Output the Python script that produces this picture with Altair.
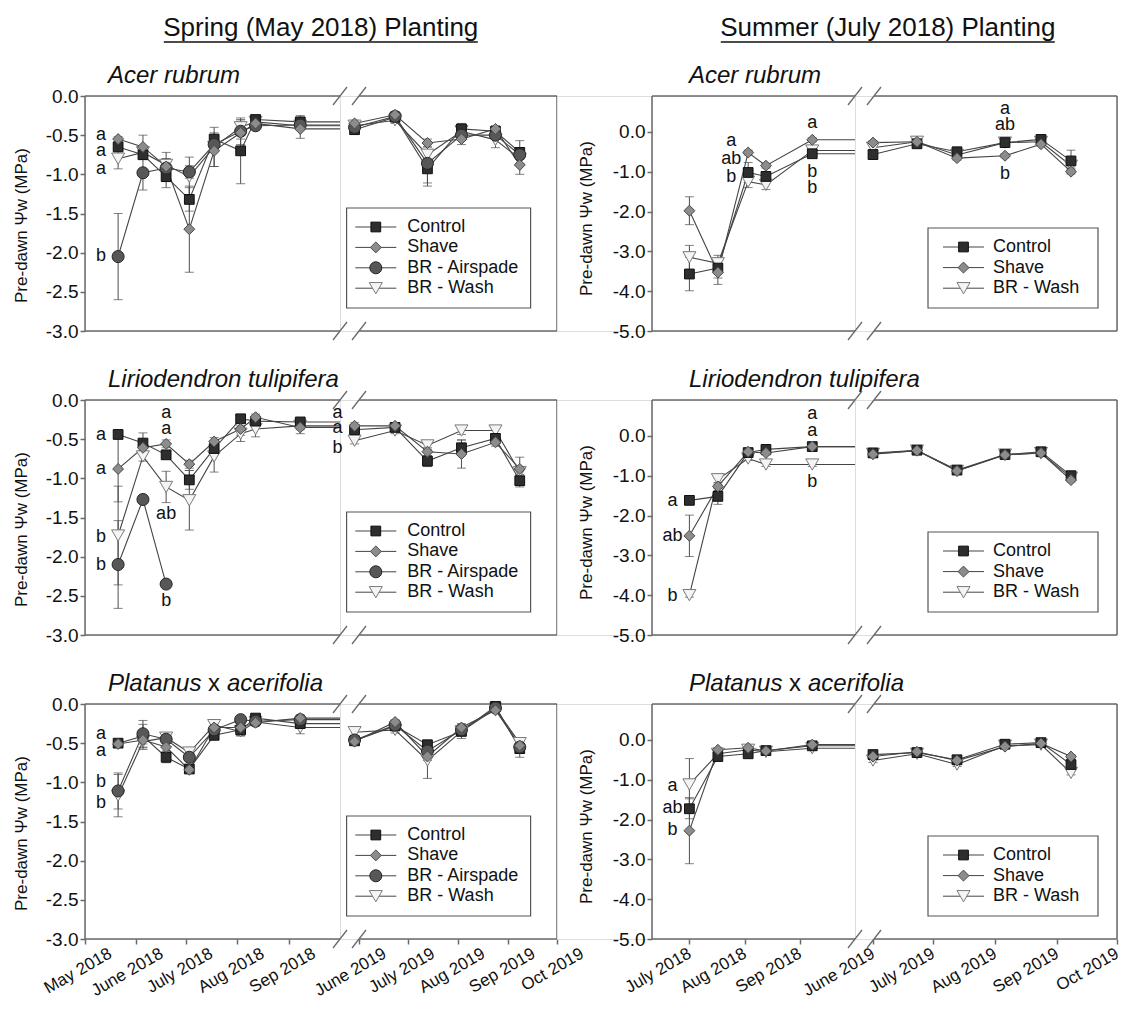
import altair as alt
import pandas as pd

# ---------------------------------------------------------------- style
FONT = "Liberation Sans"
TEXT_COLOR = "#111111"
LINE_COLOR = "#444444"
FRAME_COLOR = "#6a6a6a"
ERR_COLOR = "#4d4d4d"

SERIES = ["Control", "Shave", "BR - Airspade", "BR - Wash"]
SHAPES = ["square", "diamond", "circle", "triangle-down"]
FILLS = ["#2e2e2e", "#8c8c8c", "#575757", "#f4f4f4"]
STROKES = ["#0f0f0f", "#4a4a4a", "#262626", "#7a7a7a"]
SIZES = [95, 170, 140, 120]
DRAW_ORDER = [1, 3, 2, 0]

MONTH_NAMES = ["Jan", "Feb", "Mar", "Apr", "May", "June", "July", "Aug", "Sep", "Oct", "Nov", "Dec"]
HEADERS = ["Spring (May 2018) Planting", "Summer (July 2018) Planting"]
SPECIES_PARTS = [
    [("Acer rubrum", "italic")],
    [("Liriodendron tulipifera", "italic")],
    [("Platanus", "italic"), ("x", "normal"), ("acerifolia", "italic")],
]
Y_TITLE = "Pre-dawn Ψw (MPa)"

# ---------------------------------------------------------------- axes
SPRING_RANGE_2018 = ["2018-05-01", "2018-10-02"]
SPRING_RANGE_2019 = ["2019-05-20", "2019-10-01"]
SUMMER_RANGE_2018 = ["2018-06-10", "2018-10-02"]
SUMMER_RANGE_2019 = ["2019-05-23", "2019-10-01"]
SPRING_TICKS_2018 = ["2018-05-01", "2018-06-01", "2018-07-01", "2018-08-01", "2018-09-01"]
SUMMER_TICKS_2018 = ["2018-07-01", "2018-08-01", "2018-09-01"]
TICKS_2019 = ["2019-06-01", "2019-07-01", "2019-08-01", "2019-09-01", "2019-10-01"]
SPRING_Y_DOMAIN = [-3.0, 0.0]
SUMMER_Y_DOMAIN = [-5.0, 0.9]
SPRING_Y_TICKS = [0.0, -0.5, -1.0, -1.5, -2.0, -2.5, -3.0]
SUMMER_Y_TICKS = [0.0, -1.0, -2.0, -3.0, -4.0, -5.0]

# ---------------------------------------------------------------- dates
SPRING_DATES_2018 = ["2018-05-21", "2018-06-05", "2018-06-19", "2018-07-03",
                     "2018-07-18", "2018-08-03", "2018-08-12", "2018-09-08"]
SPRING_DATES_2019 = ["2019-05-29", "2019-06-23", "2019-07-13", "2019-08-03", "2019-08-24", "2019-09-08"]
SUMMER_DATES_2018 = ["2018-07-01", "2018-07-17", "2018-08-03", "2018-08-13", "2018-09-08"]
SUMMER_DATES_2019 = ["2019-06-01", "2019-06-23", "2019-07-13", "2019-08-06", "2019-08-24", "2019-09-08"]

# ---------------------------------------------------------------- values (MPa)
ACER_SPRING = {
    "Control":       [-0.65, -0.75, -1.03, -1.32, -0.55, -0.70, -0.30, -0.33, -0.43, -0.27, -0.93, -0.42, -0.45, -0.72],
    "Shave":         [-0.55, -0.65, -0.90, -1.70, -0.70, -0.47, -0.35, -0.42, -0.35, -0.24, -0.60, -0.55, -0.42, -0.88],
    "BR - Airspade": [-2.05, -0.98, -0.92, -0.97, -0.62, -0.45, -0.38, -0.37, -0.40, -0.26, -0.86, -0.50, -0.50, -0.75],
    "BR - Wash":     [-0.80, -0.72, -0.88, -1.03, -0.65, -0.40, -0.33, -0.38, -0.38, -0.31, -0.75, -0.45, -0.56, -0.80],
}
ACER_SPRING_ERR = {
    "Control":       [0.05, 0.06, 0.14, 0.15, 0.08, 0.42, 0.05, 0.08, 0.05, 0.04, 0.22, 0.07, 0.05, 0.15],
    "Shave":         [0.03, 0.15, 0.18, 0.55, 0.20, 0.15, 0.05, 0.12, 0.04, 0.04, 0.05, 0.07, 0.04, 0.12],
    "BR - Airspade": [0.55, 0.22, 0.12, 0.08, 0.08, 0.10, 0.05, 0.05, 0.05, 0.04, 0.25, 0.06, 0.05, 0.06],
    "BR - Wash":     [0.13, 0.05, 0.08, 0.25, 0.25, 0.10, 0.05, 0.05, 0.05, 0.04, 0.10, 0.06, 0.10, 0.06],
}
LIRIO_SPRING = {
    "Control":       [-0.44, -0.55, -0.70, -1.02, -0.62, -0.24, -0.27, -0.28, -0.38, -0.35, -0.78, -0.61, -0.49, -1.03],
    "Shave":         [-0.88, -0.61, -0.56, -0.82, -0.53, -0.37, -0.22, -0.35, -0.33, -0.33, -0.66, -0.69, -0.54, -0.88],
    "BR - Airspade": [-2.10, -1.27, -2.35, None, None, None, None, None, None, None, None, None, None, None],
    "BR - Wash":     [-1.73, -0.72, -1.11, -1.28, -0.72, -0.43, -0.37, -0.33, -0.52, -0.39, -0.58, -0.39, -0.39, -0.92],
}
LIRIO_SPRING_ERR = {
    "Control":       [0.05, 0.13, 0.05, 0.12, 0.08, 0.05, 0.04, 0.04, 0.04, 0.04, 0.07, 0.10, 0.05, 0.08],
    "Shave":         [0.42, 0.05, 0.05, 0.05, 0.05, 0.08, 0.04, 0.08, 0.04, 0.04, 0.05, 0.18, 0.05, 0.15],
    "BR - Airspade": [0.56, 0.0, 0.0, 0, 0, 0, 0, 0, 0, 0, 0, 0, 0, 0],
    "BR - Wash":     [0.63, 0.06, 0.20, 0.38, 0.20, 0.10, 0.10, 0.05, 0.04, 0.04, 0.05, 0.05, 0.04, 0.06],
}
PLAT_SPRING = {
    "Control":       [-0.50, -0.41, -0.68, -0.83, -0.40, -0.33, -0.18, -0.25, -0.47, -0.28, -0.52, -0.35, -0.03, -0.57],
    "Shave":         [-0.51, -0.46, -0.55, -0.84, -0.30, -0.30, -0.24, -0.18, -0.48, -0.23, -0.67, -0.30, -0.08, -0.53],
    "BR - Airspade": [-1.11, -0.38, -0.45, -0.68, -0.33, -0.20, -0.22, -0.20, -0.46, -0.27, -0.60, -0.33, -0.05, -0.55],
    "BR - Wash":     [-1.17, -0.48, -0.43, -0.62, -0.27, -0.35, -0.23, -0.30, -0.36, -0.33, -0.72, -0.35, -0.06, -0.50],
}
PLAT_SPRING_ERR = {
    "Control":       [0.04, 0.15, 0.07, 0.05, 0.05, 0.08, 0.04, 0.05, 0.05, 0.04, 0.05, 0.09, 0.03, 0.11],
    "Shave":         [0.03, 0.05, 0.05, 0.04, 0.05, 0.05, 0.04, 0.04, 0.04, 0.03, 0.05, 0.05, 0.03, 0.05],
    "BR - Airspade": [0.23, 0.17, 0.05, 0.05, 0.05, 0.04, 0.04, 0.04, 0.04, 0.04, 0.05, 0.05, 0.03, 0.05],
    "BR - Wash":     [0.27, 0.10, 0.05, 0.05, 0.05, 0.05, 0.04, 0.08, 0.04, 0.04, 0.23, 0.05, 0.03, 0.05],
}
ACER_SUMMER = {
    "Control":   [-3.57, -3.42, -1.02, -1.12, -0.55, -0.57, -0.30, -0.50, -0.27, -0.19, -0.73],
    "Shave":     [-1.98, -3.53, -0.52, -0.85, -0.20, -0.27, -0.25, -0.66, -0.60, -0.31, -1.00],
    "BR - Wash": [-3.15, -3.30, -1.25, -1.33, -0.47, -0.40, -0.25, -0.58, -0.27, -0.25, -0.85],
}
ACER_SUMMER_ERR = {
    "Control":   [0.42, 0.25, 0.25, 0.12, 0.08, 0.12, 0.05, 0.05, 0.05, 0.05, 0.27],
    "Shave":     [0.35, 0.30, 0.06, 0.06, 0.05, 0.05, 0.05, 0.05, 0.05, 0.05, 0.06],
    "BR - Wash": [0.30, 0.20, 0.15, 0.12, 0.06, 0.05, 0.05, 0.05, 0.05, 0.05, 0.06],
}
LIRIO_SUMMER = {
    "Control":   [-1.62, -1.52, -0.42, -0.34, -0.27, -0.43, -0.36, -0.86, -0.47, -0.40, -1.00],
    "Shave":     [-2.51, -1.27, -0.40, -0.43, -0.27, -0.46, -0.37, -0.88, -0.48, -0.43, -1.11],
    "BR - Wash": [-4.00, -1.09, -0.57, -0.72, -0.72, -0.45, -0.37, -0.88, -0.47, -0.43, -1.05],
}
LIRIO_SUMMER_ERR = {
    "Control":   [0.05, 0.20, 0.05, 0.05, 0.05, 0.05, 0.05, 0.05, 0.05, 0.05, 0.05],
    "Shave":     [0.52, 0.10, 0.05, 0.05, 0.05, 0.05, 0.05, 0.05, 0.05, 0.05, 0.05],
    "BR - Wash": [0.05, 0.12, 0.05, 0.05, 0.05, 0.05, 0.05, 0.05, 0.05, 0.05, 0.05],
}
PLAT_SUMMER = {
    "Control":   [-1.73, -0.42, -0.35, -0.27, -0.15, -0.37, -0.32, -0.50, -0.11, -0.07, -0.62],
    "Shave":     [-2.28, -0.25, -0.20, -0.28, -0.12, -0.42, -0.30, -0.52, -0.17, -0.09, -0.42],
    "BR - Wash": [-1.12, -0.35, -0.25, -0.30, -0.21, -0.52, -0.35, -0.62, -0.15, -0.12, -0.83],
}
PLAT_SUMMER_ERR = {
    "Control":   [0.25, 0.05, 0.05, 0.05, 0.05, 0.05, 0.05, 0.05, 0.05, 0.05, 0.08],
    "Shave":     [0.83, 0.05, 0.05, 0.05, 0.05, 0.05, 0.05, 0.05, 0.05, 0.05, 0.05],
    "BR - Wash": [0.65, 0.05, 0.05, 0.05, 0.05, 0.05, 0.05, 0.05, 0.05, 0.05, 0.05],
}

# ---------------------------------------------------------------- significance letters
ACER_SPRING_LETTERS = [("2018-05-21", -0.50, "a", "left"), ("2018-05-21", -0.70, "a", "left"),
                       ("2018-05-21", -0.93, "a", "left"), ("2018-05-21", -2.04, "b", "left")]
LIRIO_SPRING_LETTERS = [("2018-05-21", -0.45, "a", "left"), ("2018-05-21", -0.88, "a", "left"),
                        ("2018-05-21", -1.75, "b", "left"), ("2018-05-21", -2.10, "b", "left"),
                        ("2018-06-19", -0.16, "a", "center"), ("2018-06-19", -0.37, "a", "center"),
                        ("2018-06-19", -1.45, "ab", "center"), ("2018-06-19", -2.57, "b", "center"),
                        ("2019-05-29", -0.16, "a", "left"), ("2019-05-29", -0.36, "a", "left"),
                        ("2019-05-29", -0.61, "b", "left")]
PLAT_SPRING_LETTERS = [("2018-05-21", -0.38, "a", "left"), ("2018-05-21", -0.60, "a", "left"),
                       ("2018-05-21", -1.00, "b", "left"), ("2018-05-21", -1.26, "b", "left")]
ACER_SUMMER_LETTERS = [("2018-08-03", -0.23, "a", "left"), ("2018-08-03", -0.69, "ab", "left"),
                       ("2018-08-03", -1.14, "b", "left"),
                       ("2018-09-08", 0.21, "a", "center"), ("2018-09-08", -1.02, "b", "center"),
                       ("2018-09-08", -1.41, "b", "center"),
                       ("2019-08-06", 0.58, "a", "center"), ("2019-08-06", 0.18, "ab", "center"),
                       ("2019-08-06", -1.05, "b", "center")]
LIRIO_SUMMER_LETTERS = [("2018-07-01", -1.63, "a", "left"), ("2018-07-01", -2.52, "ab", "left"),
                        ("2018-07-01", -4.02, "b", "left"),
                        ("2018-09-08", 0.56, "a", "center"), ("2018-09-08", 0.12, "a", "center"),
                        ("2018-09-08", -1.17, "b", "center")]
PLAT_SUMMER_LETTERS = [("2018-07-01", -1.16, "a", "left"), ("2018-07-01", -1.72, "ab", "left"),
                       ("2018-07-01", -2.26, "b", "left")]

# ---------------------------------------------------------------- layout (pixels)
H = 235
W_SPRING = (255, 217)
W_SUMMER = (203, 262)
GAP_B = 19
PANEL_SPACING = 95
ROW_SPACING = 69
X_LABEL_OFFSET = (21, -4)
Y_TITLE_POS = ((-54.7, 129), (-57, 122))
LEG_SPRING = dict(box=(6.6, 190.6, 112, 212), line=(15.3, 56.3), marker=35.8, text=67.3, y0=131, step=20.4)
LEG_SUMMER = dict(box=(73, 243, 132, 212), line=(88, 129), marker=108.5, text=138, y0=151, step=20.6)
SPECIES_X = (23, 37)
PART_OFFSETS = [[0], [0], [0, 100, 119]]
HEADER_CX = 235.8
HEADER_HALF = (157, 167)

# ---------------------------------------------------------------- helpers
X_LABEL_EXPR = ("[" + ",".join("'%s'" % m for m in MONTH_NAMES) + "][utcmonth(datum.value)]"
                " + ' ' + utcyear(datum.value)")
Y_LABEL_EXPR = "(datum.value < 0 ? '-' : '') + format(abs(datum.value), '.1f')"
DUMMY = pd.DataFrame({"k": [0]})

SHAPE = alt.Shape("series:N", scale=alt.Scale(domain=SERIES, range=SHAPES), legend=None)
FILL = alt.Fill("series:N", scale=alt.Scale(domain=SERIES, range=FILLS), legend=None)
STROKE = alt.Stroke("series:N", scale=alt.Scale(domain=SERIES, range=STROKES), legend=None)
SIZE = alt.Size("series:N", scale=alt.Scale(domain=SERIES, range=SIZES), legend=None)


def dt(s):
    y, m, d = (int(p) for p in s.split("-"))
    return alt.DateTime(year=y, month=m, date=d, utc=True)


def make_df(d18, d19, vals, errs):
    rows = []
    dates = d18 + d19
    for s, v in vals.items():
        for i, d in enumerate(dates):
            if v[i] is None:
                continue
            rows.append({"date": d, "seg": "A" if i < len(d18) else "B", "series": s,
                         "value": v[i], "err": errs[s][i], "order": DRAW_ORDER[SERIES.index(s)]})
    return pd.DataFrame(rows)


def rule(x1, x2, y1, y2, color=FRAME_COLOR, w=1.5):
    return alt.Chart(DUMMY).mark_rule(color=color, strokeWidth=w).encode(
        x=alt.value(x1), x2=alt.value(x2), y=alt.value(y1), y2=alt.value(y2))


def segment(df, seg, width, xrange_, xticks, ydom, yticks, letters, leg, series_list,
            first, last_date, title_pos, header, species_idx, species_x, header_half,
            show_x, label_offset):
    d = df[df["seg"] == seg]
    xs = alt.Scale(type="utc", domain=[dt(xrange_[0]), dt(xrange_[1])])
    if show_x:
        xaxis = alt.Axis(values=[dt(t) for t in xticks], labelExpr=X_LABEL_EXPR, title=None, domain=False,
                         grid=False, labelAngle=330, labelAlign="right", labelBaseline="top",
                         labelOffset=label_offset, labelPadding=1, tickSize=5, tickWidth=1.5,
                         tickColor=FRAME_COLOR, labelFontSize=17, labelFont=FONT, labelColor=TEXT_COLOR,
                         labelFlush=False, labelOverlap=False)
    else:
        xaxis = None
    ys = alt.Scale(domain=ydom, nice=False, zero=False)
    if first:
        yaxis = alt.Axis(values=yticks, labelExpr=Y_LABEL_EXPR, title=Y_TITLE, domain=False, grid=False,
                         tickSize=5, tickWidth=1.5, tickColor=FRAME_COLOR, labelFontSize=19, labelFont=FONT,
                         labelColor=TEXT_COLOR, labelPadding=2, titleFont=FONT, titleFontSize=17,
                         titleFontWeight="normal", titleColor=TEXT_COLOR,
                         titleX=title_pos[0], titleY=title_pos[1])
    else:
        yaxis = None
    X = alt.X("date:T", scale=xs, axis=xaxis)

    def Yf(field):
        return alt.Y(field + ":Q", scale=ys, axis=yaxis)

    base = alt.Chart(d)
    ebase = base.transform_filter("datum.err > 0").transform_calculate(
        lo="datum.value - datum.err", hi="datum.value + datum.err")
    layers = []
    if seg == "A":
        layers += [rule(0, width, 0, 0), rule(0, width, H, H), rule(0, 0, 0, H)]
    else:
        layers += [rule(GAP_B, width, 0, 0), rule(GAP_B, width, H, H), rule(width, width, 0, H)]
        for cx in (0, GAP_B):
            for yy in (0, H):
                layers.append(rule(cx - 7, cx + 7, yy + 9, yy - 9, FRAME_COLOR, 1.3))
    layers.append(ebase.mark_rule(color=ERR_COLOR, strokeWidth=1).encode(x=X, y=Yf("lo"), y2="hi:Q"))
    for f in ("lo", "hi"):
        layers.append(ebase.mark_tick(orient="horizontal", size=9, thickness=1, color=ERR_COLOR)
                      .encode(x=X, y=Yf(f)))
    layers.append(base.mark_line(color=LINE_COLOR, strokeWidth=1.1).encode(x=X, y=Yf("value"), detail="series:N"))
    if seg == "A":
        ext = d[d["date"] == last_date]
        layers.append(alt.Chart(ext).mark_rule(color=LINE_COLOR, strokeWidth=1.1).encode(
            x=X, x2=alt.value(width), y=Yf("value")))
    layers.append(base.mark_point(filled=True, opacity=1, strokeWidth=1).encode(
        x=X, y=Yf("value"), shape=SHAPE, fill=FILL, stroke=STROKE, size=SIZE, order=alt.Order("order:Q")))

    ldf = pd.DataFrame(letters, columns=["date", "y", "text", "side"])
    ldf = ldf[ldf["date"].str.startswith("2018" if seg == "A" else "2019")]
    for side, dx in (("left", -17), ("center", 0)):
        sdf = ldf[ldf["side"] == side]
        if len(sdf):
            layers.append(alt.Chart(sdf).mark_text(dx=dx, fontSize=18, font=FONT, color=TEXT_COLOR,
                                                   align="center", baseline="middle")
                          .encode(x=X, y=Yf("y"), text="text:N"))

    if seg == "B":
        bx1, bx2, by1, by2 = leg["box"]
        layers.append(alt.Chart(DUMMY).mark_rect(fill="white", stroke="#555555", strokeWidth=1.2).encode(
            x=alt.value(bx1), x2=alt.value(bx2), y=alt.value(by1), y2=alt.value(by2)))
        for i, s in enumerate(series_list):
            ly = leg["y0"] + i * leg["step"]
            sd = pd.DataFrame({"series": [s]})
            layers.append(rule(leg["line"][0], leg["line"][1], ly, ly, LINE_COLOR, 1))
            layers.append(alt.Chart(sd).mark_point(filled=True, opacity=1, strokeWidth=1).encode(
                x=alt.value(leg["marker"]), y=alt.value(ly), shape=SHAPE, fill=FILL, stroke=STROKE, size=SIZE))
            layers.append(alt.Chart(sd).mark_text(align="left", baseline="middle", fontSize=18, font=FONT,
                                                  color=TEXT_COLOR).encode(
                x=alt.value(leg["text"]), y=alt.value(ly), text="series:N"))
    else:
        for (txt, style), off in zip(SPECIES_PARTS[species_idx], PART_OFFSETS[species_idx]):
            layers.append(alt.Chart(DUMMY).mark_text(text=txt, fontStyle=style, fontSize=24, font=FONT,
                                                     color=TEXT_COLOR, align="left", baseline="alphabetic")
                          .encode(x=alt.value(species_x + off), y=alt.value(-13)))
        if header is not None:
            layers.append(alt.Chart(DUMMY).mark_text(text=header, fontSize=26, font=FONT, color=TEXT_COLOR,
                                                     align="center", baseline="alphabetic")
                          .encode(x=alt.value(HEADER_CX), y=alt.value(-60)))
            layers.append(rule(HEADER_CX - header_half, HEADER_CX + header_half, -54, -54, TEXT_COLOR, 1.3))
    return alt.layer(*layers).properties(width=width, height=H)


def panel(planting, species_idx, vals, errs, letters, header, show_x):
    if planting == "spring":
        df = make_df(SPRING_DATES_2018, SPRING_DATES_2019, vals, errs)
        w, ranges, ticks = W_SPRING, (SPRING_RANGE_2018, SPRING_RANGE_2019), (SPRING_TICKS_2018, TICKS_2019)
        ydom, yticks, leg, series_list = SPRING_Y_DOMAIN, SPRING_Y_TICKS, LEG_SPRING, SERIES
        last, tp, sx, hh, lo = SPRING_DATES_2018[-1], Y_TITLE_POS[0], SPECIES_X[0], HEADER_HALF[0], X_LABEL_OFFSET[0]
    else:
        df = make_df(SUMMER_DATES_2018, SUMMER_DATES_2019, vals, errs)
        w, ranges, ticks = W_SUMMER, (SUMMER_RANGE_2018, SUMMER_RANGE_2019), (SUMMER_TICKS_2018, TICKS_2019)
        ydom, yticks, leg = SUMMER_Y_DOMAIN, SUMMER_Y_TICKS, LEG_SUMMER
        series_list = ["Control", "Shave", "BR - Wash"]
        last, tp, sx, hh, lo = SUMMER_DATES_2018[-1], Y_TITLE_POS[1], SPECIES_X[1], HEADER_HALF[1], X_LABEL_OFFSET[1]
    a = segment(df, "A", w[0], ranges[0], ticks[0], ydom, yticks, letters, leg, series_list,
                True, last, tp, header, species_idx, sx, hh, show_x, lo)
    b = segment(df, "B", w[1], ranges[1], ticks[1], ydom, yticks, letters, leg, series_list,
                False, last, tp, None, species_idx, sx, hh, show_x, lo)
    return [a, b]


def spacer():
    return alt.Chart(DUMMY).mark_point(opacity=0).encode(
        x=alt.value(0), y=alt.value(0)).properties(width=PANEL_SPACING, height=H)


cells = []
cells += panel("spring", 0, ACER_SPRING, ACER_SPRING_ERR, ACER_SPRING_LETTERS, HEADERS[0], False)
cells += [spacer()]
cells += panel("summer", 0, ACER_SUMMER, ACER_SUMMER_ERR, ACER_SUMMER_LETTERS, HEADERS[1], False)
cells += panel("spring", 1, LIRIO_SPRING, LIRIO_SPRING_ERR, LIRIO_SPRING_LETTERS, None, False)
cells += [spacer()]
cells += panel("summer", 1, LIRIO_SUMMER, LIRIO_SUMMER_ERR, LIRIO_SUMMER_LETTERS, None, False)
cells += panel("spring", 2, PLAT_SPRING, PLAT_SPRING_ERR, PLAT_SPRING_LETTERS, None, True)
cells += [spacer()]
cells += panel("summer", 2, PLAT_SUMMER, PLAT_SUMMER_ERR, PLAT_SUMMER_LETTERS, None, True)

chart = (
    alt.concat(*cells, columns=5, spacing={"row": ROW_SPACING, "column": 0}, bounds="flush", align="each")
    .properties(padding={"left": 3, "top": 6, "right": 0, "bottom": 0}, background="white")
    .configure_view(stroke=None)
    .configure(font=FONT)
)

chart.save("out.html", embed_options={"renderer": "svg", "actions": False})
